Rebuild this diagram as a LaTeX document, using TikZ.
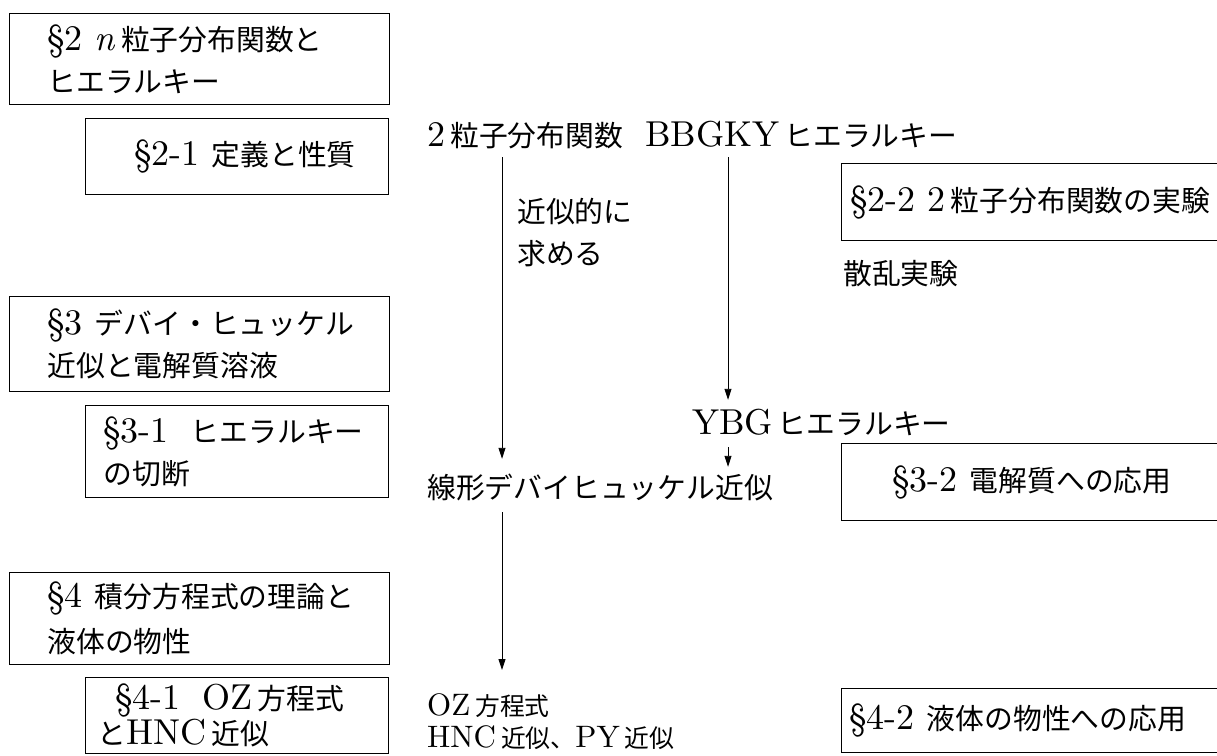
\documentclass[tikz,border=0pt]{standalone}
\usepackage{fontspec}
\setmainfont{lmroman10}[Extension=.otf, UprightFont=*-regular, ItalicFont=*-italic, BoldFont=*-bold]
\newfontfamily\cjk{Noto Sans CJK JP}[Scale=0.8]
\newcommand{\J}[1]{{\cjk #1}}
\newcommand{\ks}{\hspace{5pt}}
\usetikzlibrary{arrows.meta}
\begin{document}
\begin{tikzpicture}[x=1pt,y=-1pt,
  every node/.style={font=\fontsize{36}{42}\selectfont, inner sep=0pt},
  box/.style={draw, line width=1pt, anchor=north west, align=left},
  lbl/.style={anchor=base west, text height=24pt, text depth=4pt},
  arr/.style={-{Triangle[length=11pt,width=7pt]}, line width=0.9pt}]
\useasboundingbox (0,0) rectangle (1217,755);

% boxes
\node[box, text width=380pt, minimum height=91pt] (s2) at (9,13)
  {\hspace*{38pt}\S2 \textit{n}\ks\J{粒子分布関数と}\\\hspace*{38pt}\J{ヒエラルキー}};
\node[box, text width=303pt, align=center, minimum height=76pt] (s21) at (85,118)
  {\hspace*{16pt}\S2-1 \J{定義と性質}};
\node[box, text width=400pt, minimum height=77pt] (s22) at (841,163)
  {\hspace*{9pt}\S2-2 2\ks\J{粒子分布関数の実験}};
\node[box, text width=380pt, minimum height=95pt] (s3) at (9,296)
  {\hspace*{38pt}\S3 \J{デバイ・ヒュッケル}\\\hspace*{38pt}\J{近似と電解質溶液}};
\node[box, text width=303pt, minimum height=92pt] (s31) at (85,405)
  {\hspace*{18pt}\S3-1\hspace{22pt}\J{ヒエラルキー}\\\hspace*{18pt}\J{の切断}};
\node[box, text width=400pt, minimum height=77pt] (s32) at (841,443)
  {\hspace*{51pt}\S3-2 \J{電解質への応用}};
\node[box, text width=380pt, minimum height=92pt] (s4) at (9,572)
  {\hspace*{38pt}\S4 \J{積分方程式の理論と}\\[3pt]\hspace*{38pt}\J{液体の物性}};
\node[box, text width=303pt, minimum height=76pt] (s41) at (85,677)
  {\hspace*{30pt}\S4-1\hspace{22pt}OZ\ks\J{方程式}\\[-7pt]\hspace*{12pt}\J{と}HNC\ks\J{近似}};
\node[box, text width=400pt, minimum height=64pt] (s42) at (841,688)
  {\hspace*{8pt}\S4-2 \J{液体の物性への応用}};

% labels
\node[lbl] (p2) at (427,146) {2\ks\J{粒子分布関数}};
\node[lbl] (bb) at (645,146) {BBGKY\ks\J{ヒエラルキー}};
\node[anchor=north west, align=left] (appr) at (517,198) {\J{近似的に}\\\J{求める}};
\node[lbl] (scat) at (843,284) {\J{散乱実験}};
\node[lbl] (ybg) at (692,434) {YBG\ks\J{ヒエラルキー}};
\node[lbl] (lin) at (427,498) {\J{線形デバイヒュッケル近似}};
\node[anchor=north west, align=left, font=\fontsize{31}{32}\selectfont] (oz) at (427,693)
  {OZ\ks\J{方程式}\\HNC\ks\J{近似、}PY\ks\J{近似}};

% connectors
\coordinate (c1) at (502,0);
\coordinate (c2) at (728,0);
\draw[arr, shorten <=7pt, shorten >=15pt] (p2.south -| c1) -- (lin.north -| c1);
\draw[arr, shorten <=7pt, shorten >=10pt] (bb.south -| c2) -- (ybg.north -| c2);
\draw[arr, shorten <=9pt, shorten >=7pt] (ybg.south -| c2) -- (lin.north -| c2);
\draw[arr, shorten <=10pt, shorten >=23pt] (lin.south -| c1) -- (oz.north -| c1);
\end{tikzpicture}
\end{document}
